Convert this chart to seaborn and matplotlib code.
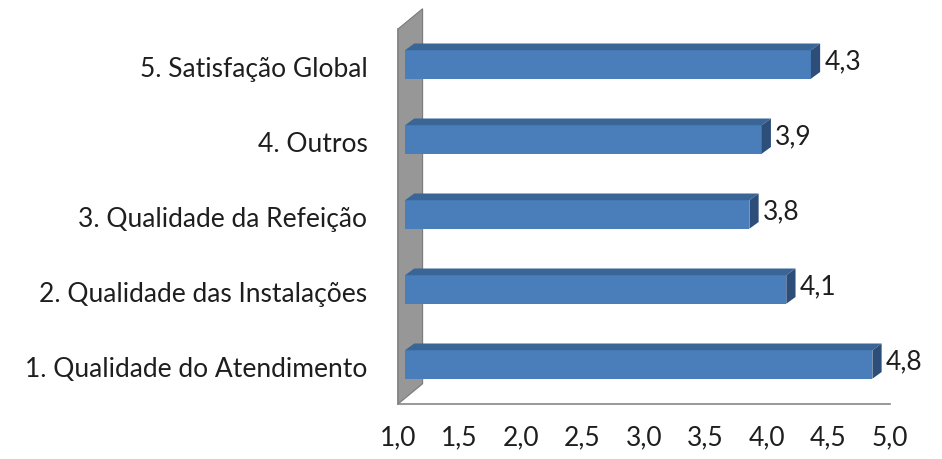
import matplotlib
matplotlib.use("Agg")
import matplotlib.pyplot as plt
import matplotlib.transforms as mtransforms
from matplotlib.patches import Polygon
import seaborn as sns
import pandas as pd

# data (top to bottom as shown)
categories = [
    "5. Satisfação Global",
    "4. Outros",
    "3. Qualidade da Refeição",
    "2. Qualidade das Instalações",
    "1. Qualidade do Atendimento",
]
scores = [4.3, 3.9, 3.8, 4.1, 4.8]
x_ticks = [1.0, 1.5, 2.0, 2.5, 3.0, 3.5, 4.0, 4.5, 5.0]

df = pd.DataFrame({"categoria": categories, "nota": scores})

sns.set_style("white")
plt.rcParams["font.family"] = ["Lato", "DejaVu Sans"]

fig = plt.figure(figsize=(9.42, 4.60), dpi=100)
ax = fig.add_axes([398 / 942, 1 - 405 / 460, 492 / 942, 375 / 460])

front = "#4A7EBB"
top_c = "#3A6597"
side_c = "#2C4E78"
txt = "#1e1e1e"

sns.barplot(data=df, x="nota", y="categoria", orient="h", color=front,
            width=0.38, saturation=1, ax=ax, zorder=3)

ax.set_xlim(x_ticks[0], x_ticks[-1])
ax.set_ylim(len(categories) - 0.5, -0.5)

# shift bars slightly to the right (3D look) and start them at the axis minimum
shift = mtransforms.offset_copy(ax.transData, fig=fig, x=7, y=2, units="dots")
dx, dy = 0.075, 0.09  # depth of the bar blocks
for p in ax.patches:
    x1 = p.get_x() + p.get_width()
    p.set_x(x_ticks[0])
    p.set_width(x1 - x_ticks[0])
    p.set_transform(shift)
    p.set_edgecolor("none")
    x0 = x_ticks[0]
    yt = p.get_y()
    yb = yt + p.get_height()
    ax.add_patch(Polygon([(x0, yt), (x1, yt), (x1 + dx, yt - dy), (x0 + dx, yt - dy)],
                         closed=True, facecolor=top_c, edgecolor="none",
                         transform=shift, zorder=3, clip_on=False))
    ax.add_patch(Polygon([(x1, yt), (x1, yb), (x1 + dx, yb - dy), (x1 + dx, yt - dy)],
                         closed=True, facecolor=side_c, edgecolor="none",
                         transform=shift, zorder=3, clip_on=False))
    ax.annotate(f"{x1:.1f}".replace(".", ","), xy=(x1 + dx, (yt + yb) / 2 - dy / 2),
                xycoords=shift, xytext=(3, 0), textcoords="offset points",
                va="center", ha="left", fontsize=19, color=txt)

# gray side wall
wx, wy = 0.2, 0.27
n = len(categories)
wall = Polygon([(x_ticks[0], n - 0.5), (x_ticks[0], -0.5),
                (x_ticks[0] + wx, -0.5 - wy), (x_ticks[0] + wx, n - 0.5 - wy)],
               closed=True, facecolor="#979797", edgecolor="#7a7a7a", lw=0.8,
               zorder=2, clip_on=False)
ax.add_patch(wall)

# axes styling
for s in ["top", "right"]:
    ax.spines[s].set_visible(False)
for s in ["left", "bottom"]:
    ax.spines[s].set_color("#868686")
    ax.spines[s].set_linewidth(1.2)

ax.set_xticks(x_ticks)
ax.set_xticklabels([f"{t:.1f}".replace(".", ",") for t in x_ticks])
ax.set_yticks(range(n))
ax.set_yticks([i - 0.5 for i in range(n + 1)], minor=True)
ax.tick_params(axis="y", which="major", length=0, pad=22, labelsize=19, labelcolor=txt)
ax.tick_params(axis="y", which="minor", length=5, width=1.2, color="#868686", direction="out")
ax.tick_params(axis="x", length=5, width=1.2, color="#868686", direction="inout",
               pad=12, labelsize=19, labelcolor=txt)
ax.set_xlabel("")
ax.set_ylabel("")

fig.savefig("out.png", dpi=100, facecolor="white")
